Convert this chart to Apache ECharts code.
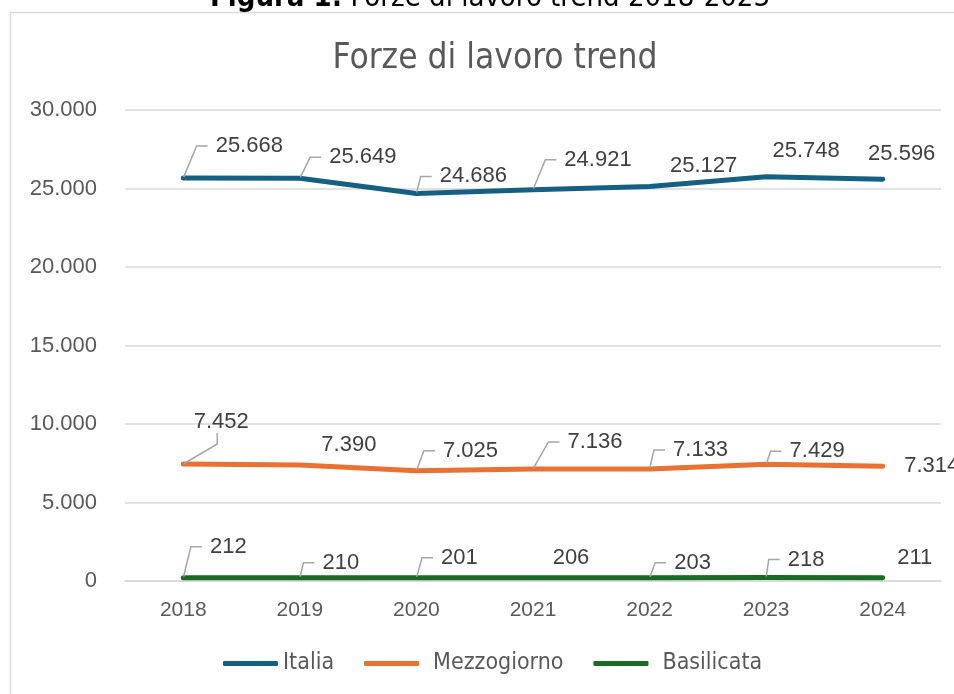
<!DOCTYPE html>
<html><head><meta charset="utf-8">
<script src="https://cdn.jsdelivr.net/npm/echarts@6/dist/echarts.min.js"></script>
<style>html,body{margin:0;padding:0;background:#fff}#c{width:954px;height:694px}</style>
</head><body><div id="c"></div>
<script>
// ---- data ----
const years = ['2018', '2019', '2020', '2021', '2022', '2023', '2024'];
const italia = [25668, 25649, 24686, 24921, 25127, 25748, 25596];
const mezzogiorno = [7452, 7390, 7025, 7136, 7133, 7429, 7314];
const basilicata = [212, 210, 201, 206, 203, 218, 211];
const seriesNames = ['Italia', 'Mezzogiorno', 'Basilicata'];
const yMin = 0, yMax = 30000, yStep = 5000;

// ---- styling (label placement like the Excel data labels) ----
const colors = ['#156082', '#E97132', '#196B24'];
const labelOffsets = [
  [[66,-32],[63,-21],[57,-17],[65,-30],[54,-21],[40,-26],[19,-25]],
  [[38,-42],[49,-20],[54,-20],[62,-27],[51,-19],[51,-13],[49,0]],
  [[45,-31],[41,-15],[43,-20],[38,-20],[43,-15],[40,-18],[32,-20]]
];
const leaderShown = [
  [1,1,1,1,0,0,0],
  [1,0,1,1,1,1,0],
  [1,1,1,0,1,1,0]
];
const GAP = 10; // blank space between leader line and label text

function fmt(v) { return String(v).replace(/\B(?=(\d{3})+(?!\d))/g, '.'); }

const values = [italia, mezzogiorno, basilicata];
const chart = echarts.init(document.getElementById('c'), null, {renderer: 'canvas'});
const labelFont = 'Liberation Sans, Arial, sans-serif';
const narrowFont = 'DejaVu Sans Condensed, DejaVu Sans';

const series = values.map((arr, si) => ({
  name: seriesNames[si],
  type: 'line',
  data: arr.map((v, i) => ({value: v, labelLine: {show: !!leaderShown[si][i]}})),
  symbol: 'circle',
  symbolSize: 2,
  showSymbol: true,
  color: colors[si],
  lineStyle: {color: colors[si], width: 5, cap: 'round', join: 'round'},
  itemStyle: {color: colors[si]},
  label: {
    show: true,
    position: 'inside',
    formatter: p => '{g| }{t|' + fmt(p.value) + '}',
    fontFamily: labelFont,
    fontSize: 22,
    color: '#404040',
    rich: {
      g: {width: GAP, fontFamily: labelFont, fontSize: 22},
      t: {fontFamily: labelFont, fontSize: 22, color: '#404040'}
    }
  },
  labelLine: {
    show: true,
    length2: 11,
    smooth: false,
    lineStyle: {color: '#a6a6a6', width: 1.5}
  },
  labelLayout: function (p) {
    const o = labelOffsets[p.seriesIndex][p.dataIndex];
    return {dx: o[0] - GAP / 2, dy: o[1]};
  },
  emphasis: {disabled: true},
  animation: false
}));

chart.setOption({
  animation: false,
  backgroundColor: '#ffffff',
  graphic: [
    {type: 'rect', silent: true, z: -10,
     shape: {x: 10.5, y: 12.5, width: 1000, height: 1000},
     style: {fill: null, stroke: '#d9d9d9', lineWidth: 1.5}},
    {type: 'text', silent: true, x: 490, y: 13,
     style: {
       text: '{b|Figura 1:}{n| Forze di lavoro trend 2018-2023}',
       align: 'center', verticalAlign: 'bottom',
       rich: {
         b: {fontFamily: narrowFont, fontWeight: 'bold', fontSize: 29, fill: '#000'},
         n: {fontFamily: narrowFont, fontWeight: 'normal', fontSize: 29, fill: '#000'}
       }
     }}
  ],
  title: {
    text: 'Forze di lavoro trend',
    left: 490, top: 36, textAlign: 'center',
    textStyle: {fontFamily: narrowFont, fontWeight: 'normal', fontSize: 35, color: '#595959'}
  },
  legend: {
    data: seriesNames.map((n, i) => ({name: n, textStyle: {padding: i === 0 ? 0 : [0, 0, 0, 9]}})),
    left: 223, top: 652, padding: 0,
    icon: 'roundRect', itemWidth: 55, itemHeight: 5, itemGap: 30,
    textStyle: {fontFamily: narrowFont, fontSize: 23, color: '#595959'}
  },
  grid: {left: 125, right: 13, top: 110, bottom: 113, containLabel: false},
  xAxis: {
    type: 'category', data: years, boundaryGap: true,
    axisLine: {show: true, lineStyle: {color: '#d9d9d9', width: 1.5}},
    axisTick: {show: false},
    axisLabel: {margin: 19, fontFamily: labelFont, fontSize: 21, color: '#595959'}
  },
  yAxis: {
    type: 'value', min: yMin, max: yMax, interval: yStep,
    axisLine: {show: false}, axisTick: {show: false},
    splitLine: {lineStyle: {color: '#d9d9d9', width: 1.5}},
    axisLabel: {margin: 28, formatter: v => fmt(v), fontFamily: labelFont, fontSize: 22, color: '#595959'}
  },
  series: series
});
</script>
</body></html>
